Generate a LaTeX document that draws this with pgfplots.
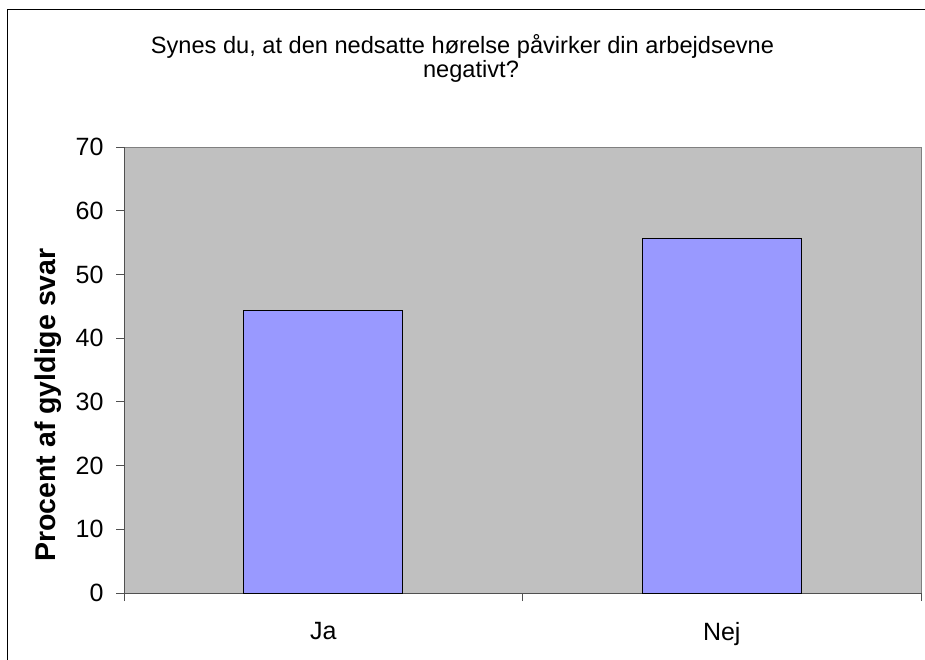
\documentclass[border=0pt]{standalone}
\usepackage{pgfplots}
\pgfplotsset{compat=1.18}
\usepackage{fontspec}
\setmainfont{Liberation Sans}
\definecolor{plotbg}{RGB}{192,192,192}
\definecolor{barfill}{RGB}{153,153,255}
\definecolor{axdark}{RGB}{80,80,80}
\definecolor{axgray}{RGB}{128,128,128}
\begin{document}
\begin{tikzpicture}[x=1pt,y=1pt]
\useasboundingbox (0,0) rectangle (925,659);
\fill[white] (0,0) rectangle (925,659);
\draw[black, line width=1pt] (7,-5) -- (7,649) -- (935,649);
\node[anchor=base, font=\fontsize{23.6}{28}\selectfont] at (462.5,605) {Synes du, at den nedsatte hørelse påvirker din arbejdsevne};
\node[anchor=base, font=\fontsize{23.6}{28}\selectfont] at (471,581) {negativt?};
\node[rotate=90, font=\bfseries\fontsize{28.5}{34}\selectfont] at (48,254) {Procent af gyldige svar};
\begin{axis}[
  at={(124pt,66pt)}, anchor=south west,
  scale only axis, width=797pt, height=446pt,
  xmin=-0.5, xmax=1.5, ymin=0, ymax=70,
  axis x line=bottom, axis y line=left,
  axis line style={-, axdark, line width=1pt},
  axis background/.style={fill=plotbg, draw=axgray, line width=1pt},
  ytick={0,10,...,70},
  xtick={-0.5,0.5,1.5}, xticklabels={},
  extra x ticks={0,1}, extra x tick labels={Ja,Nej},
  extra x tick style={major tick length=0pt, xticklabel style={yshift=-26pt}},
  tick align=outside, major tick length=8pt,
  tick style={axdark, line width=1pt},
  ticklabel style={font=\fontsize{25}{30}\selectfont},
  /pgf/number format/assume math mode=true,
  yticklabel style={xshift=-9pt},
  ybar, bar width=0.4,
]
\addplot[fill=barfill, draw=black, line width=1pt] coordinates {(0,44.4) (1,55.6)};
\end{axis}
\end{tikzpicture}
\end{document}
